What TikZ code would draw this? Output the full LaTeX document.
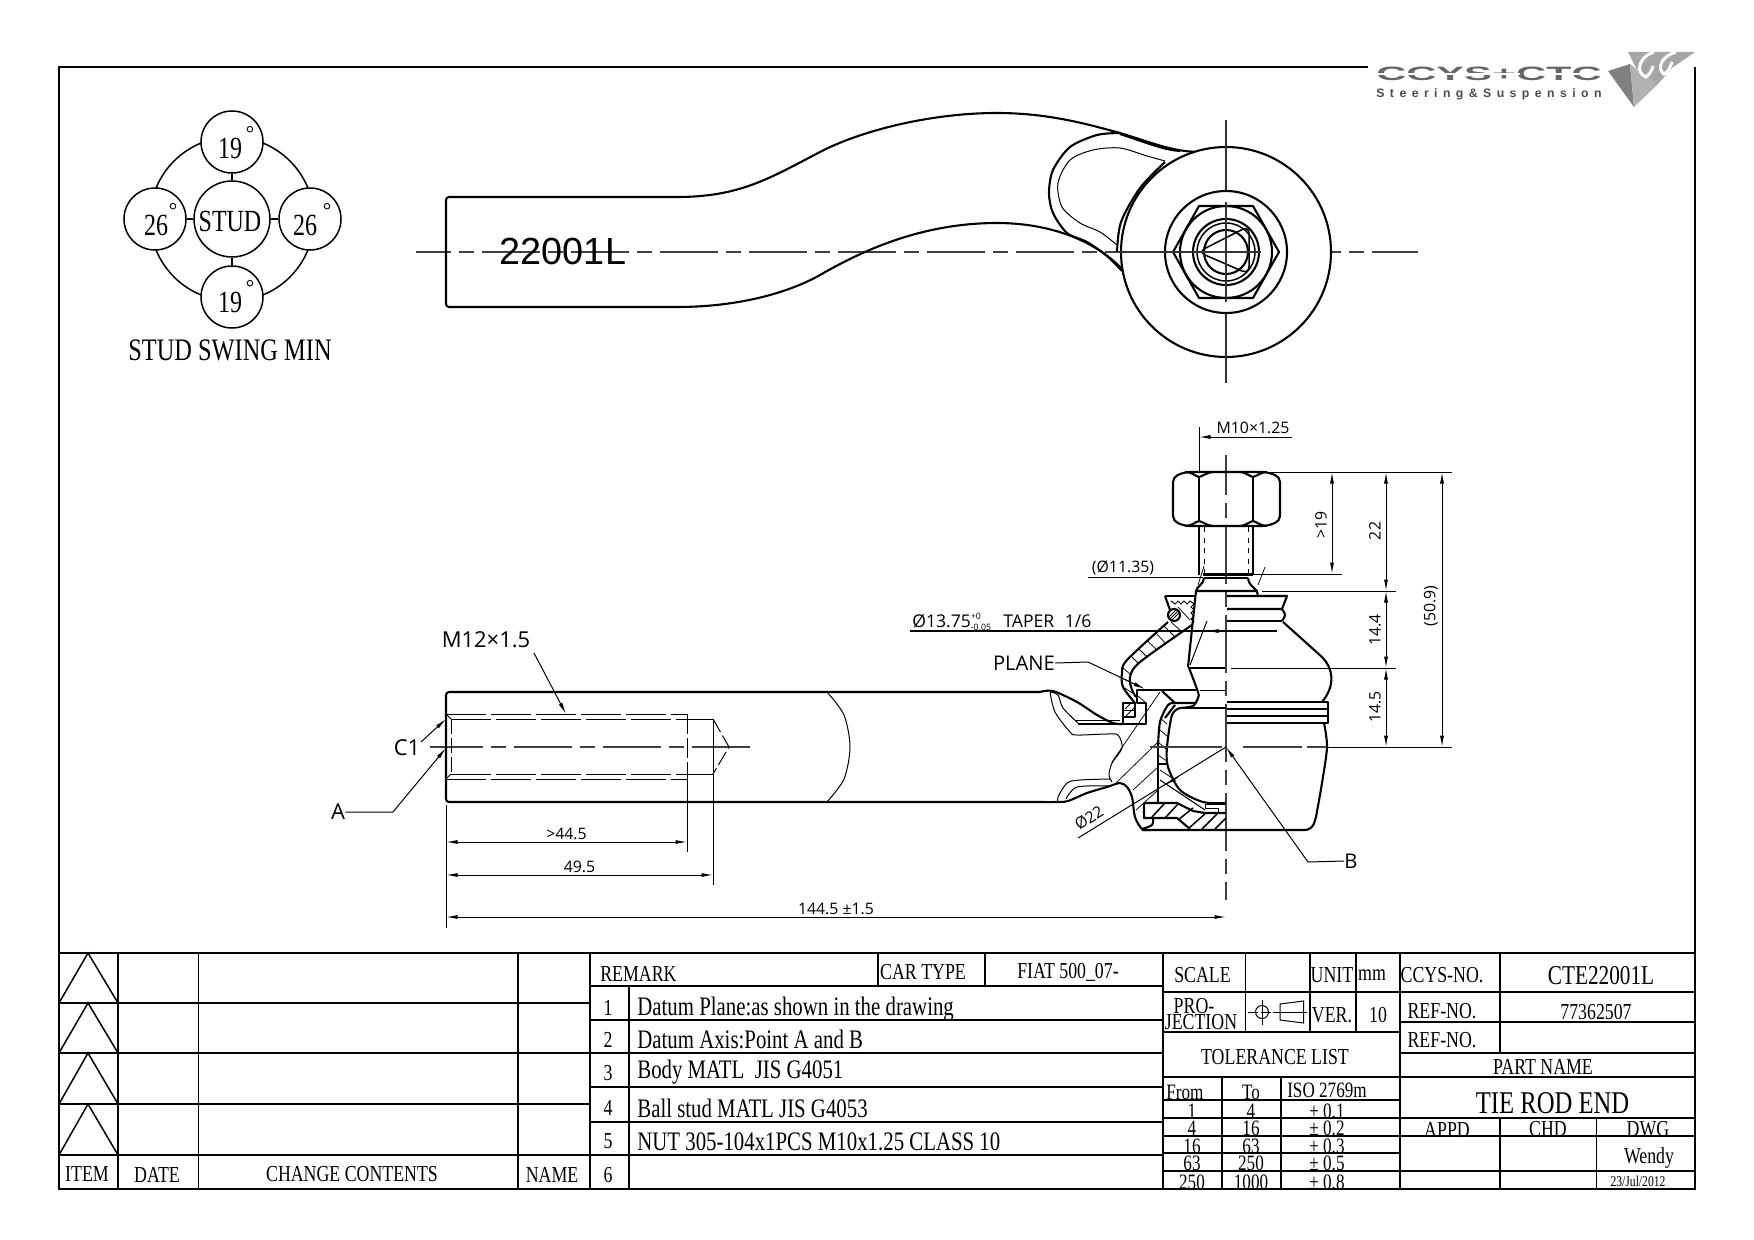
\documentclass[tikz,border=0pt]{standalone}
\usepackage{fontspec}
\usetikzlibrary{arrows.meta}
\setmainfont{Liberation Serif}
\newfontfamily\tbfont[FakeStretch=0.78]{Liberation Serif}
\newfontfamily\dimfont{Open Sans}
\newfontfamily\partfont{Liberation Sans}
\newfontfamily\logofont[FakeStretch=2.15]{Liberation Sans}
\newfontfamily\logosub[LetterSpace=44]{Liberation Sans}
\tikzset{
  >={Latex[length=2.3mm,width=0.8mm]},
  frameline/.style={line width=0.55mm},
  gridline/.style={line width=0.4mm},
  gridthin/.style={line width=0.3mm},
  part/.style={line width=0.42mm,line join=round},
  thinpart/.style={line width=0.2mm},
  dimline/.style={line width=0.2mm},
  hatchline/.style={line width=0.15mm},
  axisline/.style={line width=0.3mm,black!75,dash pattern=on 11.6mm off 1.6mm on 3mm off 1.6mm},
  threadline/.style={line width=0.2mm,dash pattern=on 8mm off 1mm},
  tbtext/.style={font=\tbfont\fontsize{13}{13}\selectfont,inner sep=0pt,yshift=-0.3mm},
  tbtable/.style={font=\tbfont\fontsize{12.5}{12.5}\selectfont,inner sep=0pt,yshift=-0.2mm},
  tbremark/.style={font=\tbfont\fontsize{15.2}{15.2}\selectfont,inner sep=0pt,anchor=west,yshift=-0.4mm},
  dimtext/.style={font=\dimfont\fontsize{9}{9}\selectfont,inner sep=0pt},
  bigdimtext/.style={font=\dimfont\fontsize{12.5}{12.5}\selectfont,inner sep=0pt},
  swingball/.style={draw,circle,fill=white,line width=0.3mm,inner sep=0pt,minimum size=12.4mm},
  swingtext/.style={inner sep=0pt,font=\tbfont\fontsize{17.5}{17.5}\selectfont},
  swingdeg/.style={inner sep=0pt,font=\fontsize{12}{12}\selectfont},
}
\begin{document}
\begin{tikzpicture}[x=0.2mm,y=-0.2mm]
\useasboundingbox (0,0) rectangle (1754,1240);
\draw[frameline] (1368,67) -- (59,67) -- (59,1189) -- (1695,1189) -- (1695,67);

\fill[black!50] (1608,71) -- (1630,64) -- (1634,107) -- cycle;
\fill[black!30] (1630,64) -- (1657,85) -- (1634,107) -- cycle;
\fill[black!35] (1628,52) -- (1695,52) -- (1672,68) -- (1657,85) -- (1636,68) -- cycle;
\draw[white,line width=0.6mm] (1654,52) .. controls (1640,56) and (1634,72) .. (1646,77) .. controls (1650,74) and (1652,70) .. (1653,66);
\draw[white,line width=0.6mm] (1676,52) .. controls (1662,56) and (1656,68) .. (1664,74) .. controls (1668,72) and (1670,68) .. (1672,62);
\node[inner sep=0pt,black!60,font=\logofont\bfseries\fontsize{11}{11}\selectfont] (logoname) at (1489,74) {CCYS+CTC};
\draw[white,line width=0.3mm] (1375,74) -- (1520,74);
\draw[white,line width=0.3mm] (1552,74) -- (1602,74);
\node[inner sep=0pt,black!70,font=\logosub\bfseries\fontsize{7}{7}\selectfont] (logosub) at (1489,94) {Steering\&Suspension};

\draw[line width=0.3mm] (232,219) circle [radius=82];
\node[swingball,minimum size=15.2mm] (stud) at (232,219) {};
\node[swingball] (swingtop) at (232,142) {};
\node[swingball] (swingbottom) at (232,297) {};
\node[swingball] (swingleft) at (155,219) {};
\node[swingball] (swingright) at (310,219) {};
\draw[line width=0.3mm] (stud) -- (swingtop);
\draw[line width=0.3mm] (stud) -- (swingbottom);
\draw[line width=0.3mm] (stud) -- (swingleft);
\draw[line width=0.3mm] (stud) -- (swingright);
\node[swingtext] (studtext) at (230,221) {STUD};
\node[swingtext] (toptext) at (230,148) {19};
\node[swingtext] (bottomtext) at (230,302) {19};
\node[swingtext] (lefttext) at (156,225) {26};
\node[swingtext] (righttext) at (305,225) {26};
\node[swingdeg] (degtop) at (250,133) {°};
\node[swingdeg] (degbottom) at (250,287) {°};
\node[swingdeg] (degleft) at (173,210) {°};
\node[swingdeg] (degright) at (327,210) {°};
\node[inner sep=0pt,font=\tbfont\fontsize{17.8}{17.8}\selectfont] (swingtitle) at (230,350) {STUD SWING MIN};

\draw[axisline,dash phase=4.6mm] (416,252) -- (1418,252);
\draw[part,rounded corners=0.6mm] (677,197) -- (446,197) -- (446,307) -- (677,307);
\draw[part] (677,197) .. controls (740,197) and (770,178) .. (820,152) .. controls (860,131) and (930,113) .. (997,113) .. controls (1050,113) and (1090,125) .. (1120,133) .. controls (1150,142) and (1170,151) .. (1197,152);
\draw[part] (677,307) .. controls (740,307) and (790,292) .. (820,275) .. controls (860,252) and (920,223) .. (997,223) .. controls (1040,223) and (1090,235) .. (1123,270);
\draw[part] plot[smooth] coordinates {(1120,133) (1097,135) (1070,147) (1053,170) (1049,193) (1053,213) (1067,233) (1087,242) (1107,256) (1122,271)};
\draw[part] (1120,134) .. controls (1150,144) and (1165,150) .. (1180,151);
\draw[thinpart] plot[smooth] coordinates {(1165,161) (1147,156) (1120,148) (1093,150) (1070,160) (1058,183) (1062,207) (1080,223) (1100,232) (1117,245)};
\draw[part] plot[smooth] coordinates {(1117,252) (1121,222) (1140,188) (1165,162)};
\node[inner sep=0pt,font=\partfont\fontsize{21.5}{21.5}\selectfont] (partno) at (563,251) {22001L};
\draw[part,fill=white] (1226,252) circle [radius=105];
\draw[part] (1226,252) circle [radius=61];
\draw[part] (1173,252) -- (1199,206) -- (1253,206) -- (1279,252) -- (1253,298) -- (1199,298) -- cycle;
\draw[part] (1226,252) circle [radius=46];
\draw[part] (1226,252) circle [radius=33];
\draw[thinpart,line width=0.3mm] (1226,252) circle [radius=29];
\draw[part] (1226,252) circle [radius=22];
\draw[thinpart,line width=0.3mm,rounded corners=1.5mm] (1249,226) -- (1249,274) -- (1198,252) -- cycle;
\draw[black!80,line width=0.25mm] (1226,120) -- (1226,190);
\draw[black!80,line width=0.25mm] (1226,202) -- (1226,302);
\draw[black!80,line width=0.25mm] (1226,314) -- (1226,383);
\draw[black!80,line width=0.25mm] (1120,252) -- (1261,252);

\draw[axisline,dash phase=1mm] (430,747) -- (750,747);
\draw[part,rounded corners=0.6mm] (1040,692) -- (446,692) -- (446,802) -- (1040,802);
\draw[part] plot[smooth] coordinates {(1040,692) (1053,691) (1077,702) (1097,715) (1113,723) (1123,724)};
\draw[part] plot[smooth] coordinates {(1040,802) (1057,802) (1068,801) (1087,793) (1107,787) (1120,783) (1127,787) (1132,797) (1135,817) (1142,829) (1150,830)};
\draw[thinpart] plot[smooth] coordinates {(827,692) (844,715) (850,747) (844,779) (827,802)};
\draw[threadline] (446,714) -- (687,714);
\draw[threadline] (446,779) -- (687,779);
\draw[thinpart,dash pattern=on 4mm off 0.8mm] (687,714) -- (687,779);
\draw[threadline] (451,719) -- (713,719);
\draw[threadline] (451,774) -- (713,774);
\draw[thinpart,dash pattern=on 3mm off 0.8mm] (451,719) -- (451,774);
\draw[thinpart,dash pattern=on 3mm off 0.8mm] (713,719) -- (729,747) -- (713,774);
\draw[thinpart] (446,714) -- (451,719);
\draw[thinpart] (446,779) -- (451,774);
\draw[thinpart] (713,719) -- (713,885);
\draw[thinpart] (687,779) -- (687,852);
\draw[thinpart] (446,805) -- (446,928);

\draw[dimline,<->] (446,842) -- node[dimtext,above=0.4mm] (lenthread) {>44.5} (687,842);
\draw[dimline,<->] (446,875) -- node[dimtext,above=0.4mm] (lendrill) {49.5} (713,875);
\draw[dimline,<->] (446,917) -- node[dimtext,above=0.4mm] (lentotal) {144.5 ±1.5} (1226,917);
\node[bigdimtext] (threadlabel) at (486,640) {M12×1.5};
\coordinate (threadtip) at (566,714);
\draw[dimline,->] (534,653) -- (threadtip);
\node[bigdimtext] (chamfer) at (407,748) {C1};
\coordinate (chamfertip) at (446,719);
\draw[dimline,->] (421,742) -- (chamfertip);
\node[bigdimtext] (datuma) at (338,812) {A};
\coordinate (datumatip) at (446,748);
\draw[dimline,->] (datuma.east) -- (393,812) -- (datumatip);

\draw[thinpart] plot[smooth] coordinates {(1050,692) (1055,712) (1070,732) (1077,735) (1107,734) (1118,735) (1122,748) (1112,763) (1109,775) (1112,782)};
\draw[thinpart] plot[smooth] coordinates {(1050,692) (1058,695) (1063,708) (1078,723)};
\draw[thinpart] (1075,720) -- (1120,720);
\draw[part] (1078,724) -- (1123,724);
\draw[thinpart] plot[smooth] coordinates {(1110,779) (1080,780) (1067,783) (1058,797) (1058,802)};
\draw[thinpart] plot[smooth] coordinates {(1110,786) (1077,787) (1066,799)};

\draw[axisline,dash phase=3.6mm] (1226,455) -- (1226,900);
\draw[part] (1123,724) -- (1146,724) -- (1146,703) -- (1137,703) -- (1137,690) -- (1197,690);
\draw[part] (1123,724) -- (1123,703) -- (1135,703) -- (1135,717) -- (1123,717);
\draw[hatchline] (1123,710) -- (1135,710);
\draw[hatchline] (1125,717) -- (1135,707);
\draw[hatchline] (1125,709) -- (1131,703);
\draw[part] (1162,691) -- (1175,703) -- (1195,703);
\draw[part] plot[smooth] coordinates {(1189,668) (1198,692) (1198,698) (1193,706) (1180,708)};
\draw[part] (1180,708) -- (1226,708);
\draw[part] plot[smooth] coordinates {(1175,703) (1168,705) (1160,722) (1158,747)};
\draw[part] plot[smooth] coordinates {(1180,708) (1172,715) (1167,747) (1168,767) (1180,790) (1203,802) (1226,803)};
\draw[part] (1158,747) -- (1158,803);
\draw[part] (1158,764) -- (1168,764);
\draw[part] (1175,705) -- (1165,718);
\draw[part] (1144,803) -- (1177,803) -- (1193,811) -- (1205,813) -- (1226,813);
\draw[part] (1144,803) -- (1144,818) -- (1177,818) -- (1190,829);
\draw[part] plot[smooth] coordinates {(1142,829) (1152,825) (1153,818)};
\draw[thinpart] (1205,804) -- (1226,804);
\draw[thinpart] (1205,804) -- (1205,808) -- (1218,808) -- (1218,813);
\draw[thinpart] (1160,780) -- (1205,810);
\foreach \a/\b/\c/\d in {1152/817/1164/804, 1165/818/1178/804, 1178/820/1193/808, 1189/828/1206/813, 1202/829/1217/814, 1215/829/1226/818}
  \draw[thinpart,line width=0.3mm] (\a,\b) -- (\c,\d);
\foreach \a/\b/\c/\d in {1160/692/1112/762, 1157/743/1115/784, 1158/767/1133/790, 1158/790/1136/810}
  \draw[hatchline] (\a,\b) -- (\c,\d);
\foreach \a/\b/\c/\d in {1171/622/1182/632, 1164/626/1175/637, 1156/633/1166/644, 1147.5/641/1157/650, 1139/649/1147/657, 1131/656/1138/663, 1123/668/1131/675, 1122/678/1130/682, 1125/688/1132/693, 1137/695/1146/703, 1160/718/1167/724, 1160/730/1167/736, 1158/742/1167/750, 1158/755/1168/762, 1160/770/1172/778}
  \draw[hatchline] (\a,\b) -- (\c,\d);

\draw[part] (1165,596) -- (1196,596);
\draw[part] (1165,596) -- (1170,610);
\draw[thinpart] (1171,601) -- (1175,604) -- (1178,601) -- (1181,604) -- (1184,601) -- (1187,604) -- (1190,601) -- (1194,604) -- (1191,607) -- (1194,610) -- (1191,613) -- (1194,616) -- (1191,619) -- (1194,622) -- (1191,625);
\draw[part] (1174,615) circle [radius=6];
\draw[hatchline] (1170,619) -- (1178,611);
\draw[hatchline] (1172,620) -- (1179,613);
\draw[hatchline] (1169,617) -- (1176,610);
\draw[hatchline] (1178,607) -- (1190,620);
\draw[part] plot[smooth] coordinates {(1168,622) (1127,660) (1122,673) (1123,687) (1135,703)};
\draw[part] plot[smooth] coordinates {(1192,625) (1140,662) (1130,677) (1132,690) (1136,697)};
\draw[part] (1196,591) -- (1188,667);
\draw[part] (1196,591) -- (1257,591) -- (1258,597);
\draw[part] (1188,668) -- (1225,668);
\draw[thinpart] (1200,690) -- (1225,690);

\draw[part,rounded corners=1mm] (1185,472) -- (1267,472) -- (1280,477) -- (1280,521) -- (1267,526) -- (1185,526) -- (1173,521) -- (1173,477) -- cycle;
\draw[part] (1199,477) -- (1199,521);
\draw[part] (1253,477) -- (1253,521);
\draw[part] (1185,472) .. controls (1192,472) and (1195,476) .. (1199,477) .. controls (1203,476) and (1208,472) .. (1213,472);
\draw[part] (1240,472) .. controls (1245,472) and (1249,476) .. (1253,477) .. controls (1257,476) and (1261,472) .. (1267,472);
\draw[part] (1185,526) .. controls (1192,526) and (1195,522) .. (1199,521) .. controls (1203,522) and (1208,526) .. (1213,526);
\draw[part] (1240,526) .. controls (1245,526) and (1249,522) .. (1253,521) .. controls (1257,522) and (1261,526) .. (1267,526);
\draw[part] (1199,526) -- (1199,575);
\draw[part] (1253,526) -- (1253,575);
\draw[thinpart,dashed] (1204,527) -- (1204,576);
\draw[thinpart,dashed] (1248,527) -- (1248,576);
\draw[part] (1203,574.5) -- (1253,574.5);
\draw[part] (1204,578) -- (1248,578);
\draw[part] (1204,578) .. controls (1204,584) and (1197,586) .. (1196,591);
\draw[part] (1248,578) .. controls (1248,584) and (1254,588) .. (1257,591);
\draw[hatchline] (1204,566) -- (1198,585);
\draw[hatchline] (1265,567) -- (1258,585);

\draw[part] (1227,596) -- (1287,596) -- (1282,609) -- (1227,609);
\draw[part] plot[smooth] coordinates {(1282,609) (1285,615) (1282,621)};
\draw[part] (1227,621) -- (1282,621);
\draw[part] (1283,622) -- (1322,657) .. controls (1333,668) and (1336,685) .. (1322,702);
\draw[part] (1227,702) -- (1328,702) -- (1328,723) -- (1227,723);
\draw[part] (1227,709) -- (1328,709);
\draw[part] (1227,716) -- (1328,716);
\draw[part] plot[smooth] coordinates {(1324,723) (1327,747) (1322,783) (1316,817)};
\draw[part,rounded corners=1.4mm] (1316,817) -- (1312,830) -- (1142,830);
\draw[axisline,line width=0.25mm,dash pattern=on 14.4mm off 4.2mm on 11.8mm off 1mm] (1150,747) -- (1327,747);

\draw[dimline] (1199,427) -- (1199,471);
\draw[dimline,<-] (1199,437) -- (1292,437);
\node[dimtext] (stubthread) at (1253,428) {M10×1.25};
\draw[dimline] (1253,472) -- (1452,472);
\draw[dimline] (1250,574) -- (1342,574);
\draw[dimline] (1262,591) -- (1396,591);
\draw[dimline] (1231,668) -- (1396,668);
\draw[dimline] (1327,747) -- (1452,747);
\draw[dimline,<->] (1332,472) -- (1332,574);
\draw[dimline,<->] (1386,472) -- (1386,591);
\draw[dimline,<->] (1386,591) -- (1386,668);
\draw[dimline,<->] (1386,668) -- (1386,747);
\draw[dimline,<->] (1442,472) -- (1442,747);
\node[dimtext,rotate=90] (dimnut) at (1321,525) {>19};
\node[dimtext,rotate=90] (dimtop) at (1375,531) {22};
\node[dimtext,rotate=90] (dimtaper) at (1375,630) {14.4};
\node[dimtext,rotate=90] (dimball) at (1375,707) {14.5};
\node[dimtext,rotate=90] (dimall) at (1431,606) {(50.9)};
\node[dimtext] (neckdia) at (1123,568) {(Ø11.35)};
\draw[dimline] (1088,577) -- (1203,577);
\node[dimtext,anchor=west,font=\dimfont\fontsize{10}{10}\selectfont] (taperdia) at (912,622) {Ø13.75\rlap{\raisebox{0.9ex}{\fontsize{5}{5}\selectfont +0}}\raisebox{-0.3ex}{\fontsize{5}{5}\selectfont -0.05}\hspace{0.7em}TAPER\hspace{0.6em}1/6};
\coordinate (taperstart) at (910,631);
\draw[dimline,line width=0.3mm] (taperstart) -- (1277,631);
\draw[dimline,<-] (1207,631) -- (1220,631);
\draw[dimline] (1207,621) -- (1190,665);
\node[bigdimtext,font=\dimfont\fontsize{11.5}{11.5}\selectfont] (planelabel) at (1024,663) {PLANE};
\coordinate (planetip) at (1145,689);
\draw[dimline,->] (planelabel.east) -- (1088,662) -- (planetip);
\node[dimtext,rotate=32] (balldia) at (1089,818) {Ø22};
\coordinate (ballcentre) at (1226,747);
\draw[dimline] (1078,838) -- (ballcentre);
\draw[dimline,<-] (1165,785) -- (1178,777);
\node[bigdimtext,font=\dimfont\fontsize{11.5}{11.5}\selectfont] (datumb) at (1351,861) {B};
\draw[dimline,->] (datumb.west) -- (1308,862) -- (ballcentre);

\draw[gridline] (59,953) -- (1695,953);
\foreach \y in {1003,1053,1104,1155}
  \draw[gridline] (59,\y) -- (590,\y);
\foreach \x in {118,198.5,518,590}
  \draw[gridthin] (\x,953) -- (\x,1189);
\foreach \a/\b in {953/1003,1003/1053,1053/1104,1104/1155}
  \draw[gridthin] (59,\b) -- (88,\a) -- (118,\b);
\draw[gridthin] (590,986) -- (1163,986);
\draw[gridthin] (629,986) -- (629,1189);
\draw[gridthin] (878,953) -- (878,986);
\draw[gridthin] (985,953) -- (985,986);
\foreach \y in {1020,1053,1087,1122,1155}
  \draw[gridthin] (590,\y) -- (1163,\y);
\draw[gridline] (1163,953) -- (1163,1189);
\draw[gridline] (1400,953) -- (1400,1189);
\draw[gridthin] (1245.5,953) -- (1245.5,1032);
\draw[gridthin] (1310,953) -- (1310,1032);
\draw[gridthin] (1356,953) -- (1356,1032);
\draw[gridthin] (1163,992) -- (1400,992);
\draw[gridline] (1163,1032) -- (1400,1032);
\draw[gridthin] (1163,1077) -- (1695,1077);
\foreach \y in {1100,1118,1136,1153,1171}
  \draw[gridthin] (1163,\y) -- (1400,\y);
\draw[gridthin] (1222,1077) -- (1222,1189);
\draw[gridthin] (1281,1077) -- (1281,1189);
\draw[gridline] (1400,992) -- (1695,992);
\draw[gridline] (1400,1022) -- (1695,1022);
\draw[gridline] (1400,1053) -- (1695,1053);
\draw[gridline] (1400,1118) -- (1695,1118);
\draw[gridthin] (1400,1136) -- (1695,1136);
\draw[gridthin] (1400,1171) -- (1695,1171);
\draw[gridthin] (1500,953) -- (1500,1053);
\draw[gridthin] (1500,1118) -- (1500,1189);
\draw[gridthin] (1596.5,1118) -- (1596.5,1189);
\draw[frameline] (59,1189) -- (1695,1189);

\draw[thinpart] (1262,1012) circle [radius=6.5];
\draw[hatchline] (1262,1000) -- (1262,1025);
\draw[hatchline,dash pattern=on 2mm off 0.5mm] (1248,1012) -- (1307,1012);
\draw[thinpart,fill=white] (1280,1004) -- (1303.5,1001) -- (1303.5,1023) -- (1280,1020) -- cycle;
\draw[hatchline] (1276,1012) -- (1307,1012);

\node[tbtext] (itemhead) at (87,1173) {ITEM};
\node[tbtext] (datehead) at (157,1173) {DATE};
\node[tbtext] (changehead) at (352,1173) {CHANGE CONTENTS};
\node[tbtext] (namehead) at (552,1173) {NAME};
\node[tbtext,anchor=west] (remarkhead) at (600,972) {REMARK};
\node[tbtext] (carhead) at (923,971) {CAR TYPE};
\node[tbtext] (carname) at (1068,971) {FIAT 500\_07-};
\foreach \n/\y in {1/1006,2/1038,3/1072,4/1106,5/1140,6/1174}
  \node[tbtext] (remarkno\n) at (608,\y) {\n};
\node[tbremark] (remarka) at (637,1007) {Datum Plane:as shown in the drawing};
\node[tbremark] (remarkb) at (637,1037) {Datum Axis:Point A and B};
\node[tbremark] (remarkc) at (637,1070) {Body MATL \ JIS G4051};
\node[tbremark] (remarkd) at (637,1106) {Ball stud MATL JIS G4053};
\node[tbremark] (remarke) at (637,1140) {NUT 305-104x1PCS M10x1.25 CLASS 10};
\node[tbtext] (scalehead) at (1202.5,974) {SCALE};
\node[tbtext] (unithead) at (1332,974) {UNIT};
\node[tbtext] (unitvalue) at (1372,974) {mm};
\node[tbtext] (projectiona) at (1194,1005) {PRO-};
\node[tbtext] (projectionb) at (1201,1021) {JECTION};
\node[tbtext] (verhead) at (1332,1014) {VER.};
\node[tbtext] (vervalue) at (1378,1014) {10};
\node[tbtext] (tolhead) at (1275,1056) {TOLERANCE LIST};
\node[tbtable] (tolfrom) at (1185,1091) {From};
\node[tbtable] (tolto) at (1251,1091) {To};
\node[tbtable] (toliso) at (1327,1089) {ISO 2769m};
\foreach \y/\f/\t/\v in {1110/1/4/0.1,1127/4/16/0.2,1145/16/63/0.3,1162/63/250/0.5,1181/250/1000/0.8} {
  \node[tbtable] at (1192,\y) {\f};
  \node[tbtable] at (1251,\y) {\t};
  \node[tbtable] at (1327,\y) {± \v};
}
\node[tbtext] (ccyshead) at (1442,974) {CCYS-NO.};
\node[tbtext,font=\tbfont\fontsize{15.5}{15.5}\selectfont] (ccysno) at (1601,974) {CTE22001L};
\node[tbtext] (refheada) at (1442,1010) {REF-NO.};
\node[tbtext] (refno) at (1596,1011) {77362507};
\node[tbtext] (refheadb) at (1442,1039) {REF-NO.};
\node[tbtext] (partnamehead) at (1543,1065) {PART NAME};
\node[tbtext,font=\tbfont\fontsize{18}{18}\selectfont] (partname) at (1552.5,1102) {TIE ROD END};
\node[tbtext] (appdhead) at (1447,1128) {APPD};
\node[tbtext] (chdhead) at (1548,1128) {CHD};
\node[tbtext] (dwghead) at (1648,1128) {DWG};
\node[tbtext] (dwgname) at (1649,1157) {Wendy};
\node[tbtext,font=\tbfont\fontsize{8.5}{8.5}\selectfont] (dwgdate) at (1638,1180) {23/Jul/2012};
\end{tikzpicture}
\end{document}
